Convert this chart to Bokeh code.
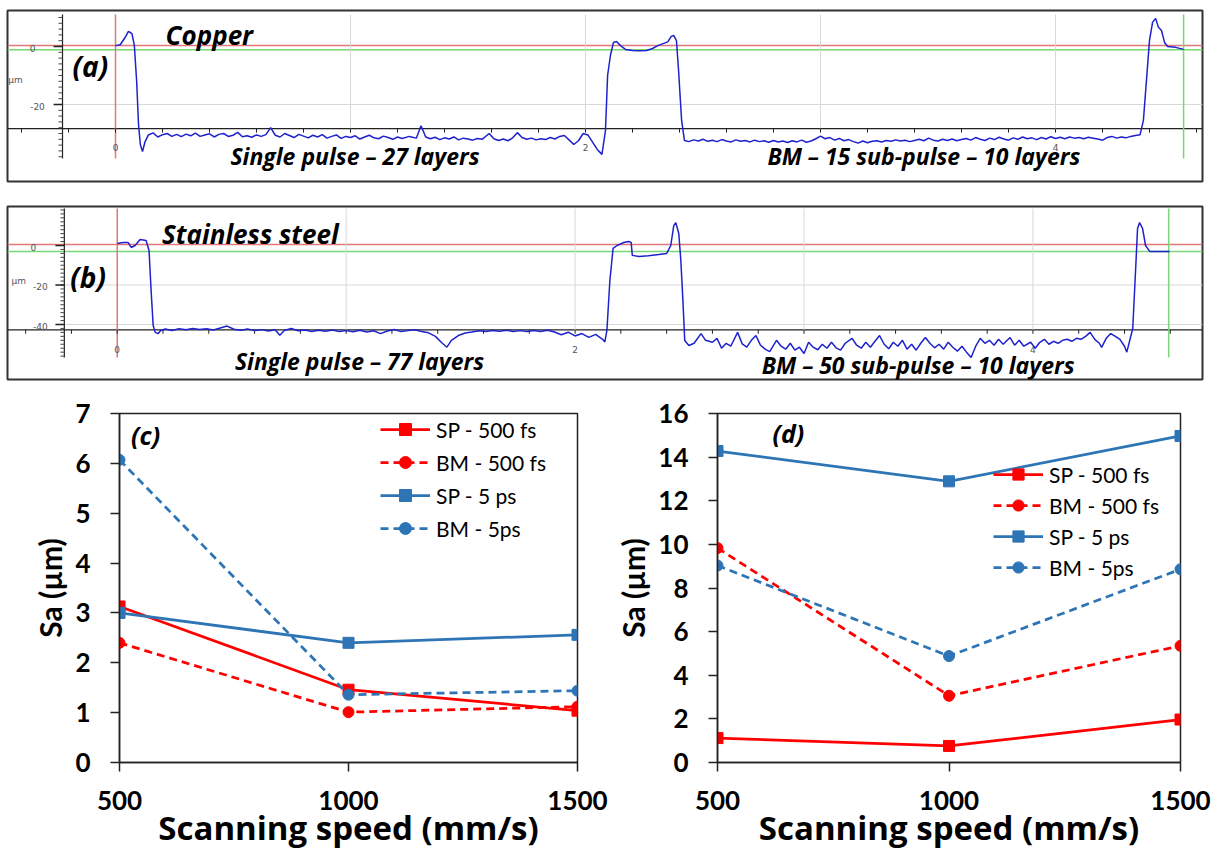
from bokeh.plotting import figure
from bokeh.models import Range1d, Span, Legend, LegendItem, FixedTicker
from bokeh.layouts import column, row
from bokeh.core.properties import value
from bokeh.embed import file_html
from bokeh.resources import INLINE

# ---------------- data ----------------
# (a) copper profile: position (mm), height (um)
cu_x = [0.00, 0.02, 0.04, 0.055, 0.07, 0.08, 0.09, 0.098, 0.106, 0.115, 0.125, 0.14,
        0.16, 0.18, 0.20, 0.22, 0.24, 0.26, 0.28, 0.30, 0.32, 0.34, 0.36, 0.38, 0.40,
        0.42, 0.44, 0.46, 0.48, 0.50, 0.52, 0.54, 0.56, 0.58, 0.60, 0.62, 0.64, 0.66,
        0.68, 0.70, 0.72, 0.74, 0.76, 0.78, 0.80, 0.82, 0.84, 0.86, 0.88, 0.90, 0.92,
        0.94, 0.96, 0.98, 1.00, 1.02, 1.04, 1.06, 1.08, 1.10, 1.12, 1.14, 1.16, 1.18,
        1.20, 1.22, 1.25, 1.28, 1.30, 1.32, 1.34, 1.36, 1.38, 1.40, 1.42, 1.44, 1.46,
        1.48, 1.50, 1.52, 1.54, 1.56, 1.59, 1.61, 1.63, 1.65, 1.67, 1.69, 1.71, 1.73,
        1.75, 1.77, 1.79, 1.81, 1.83, 1.85, 1.87, 1.89, 1.91, 1.93, 1.95, 1.97, 1.99,
        2.01, 2.03, 2.05, 2.07, 2.085, 2.094, 2.106, 2.119, 2.132, 2.149, 2.17, 2.20,
        2.23, 2.26, 2.285, 2.31, 2.33, 2.35, 2.365, 2.375, 2.387, 2.396, 2.409, 2.421,
        2.44, 2.46, 2.48, 2.50, 2.52, 2.54, 2.56, 2.58, 2.60, 2.62, 2.64, 2.66, 2.68,
        2.70, 2.72, 2.74, 2.76, 2.78, 2.80, 2.82, 2.84, 2.86, 2.88, 2.90, 2.92, 2.94,
        2.96, 2.98, 3.00, 3.02, 3.04, 3.06, 3.08, 3.10, 3.12, 3.14, 3.16, 3.18, 3.20,
        3.22, 3.24, 3.26, 3.28, 3.30, 3.32, 3.34, 3.36, 3.38, 3.40, 3.42, 3.44, 3.46,
        3.48, 3.50, 3.52, 3.54, 3.56, 3.58, 3.60, 3.62, 3.64, 3.66, 3.68, 3.70, 3.72,
        3.74, 3.76, 3.78, 3.80, 3.82, 3.84, 3.86, 3.88, 3.90, 3.92, 3.94, 3.96, 3.98,
        4.00, 4.02, 4.04, 4.06, 4.08, 4.10, 4.12, 4.14, 4.16, 4.18, 4.20, 4.22, 4.24,
        4.26, 4.28, 4.30, 4.32, 4.34, 4.36, 4.374, 4.387, 4.40, 4.413, 4.426, 4.438,
        4.451, 4.464, 4.477, 4.511, 4.545]
cu_z = [0.3, 0.6, 3.0, 5.2, 4.4, 0.5, -12.0, -27.0, -34.0, -36.2, -33.0, -30.5,
        -29.8, -31.2, -30.4, -30.0, -31.0, -30.3, -31.1, -30.2, -30.8, -29.9, -31.0, -30.5, -30.1,
        -31.2, -30.3, -30.0, -31.0, -30.6, -29.6, -31.1, -30.8, -31.3, -30.5, -31.0, -30.4, -28.0,
        -30.6, -31.2, -30.0, -30.7, -31.4, -30.3, -30.9, -31.5, -30.6, -31.2, -30.4, -31.6, -31.0,
        -30.5, -31.7, -31.0, -31.4, -30.8, -31.9, -31.2, -30.6, -31.5, -31.8, -30.9, -31.4, -32.0,
        -31.2, -31.7, -31.0, -31.6, -27.3, -31.2, -31.8, -31.3, -32.1, -31.5, -31.9, -31.2, -32.2,
        -31.6, -31.9, -32.3, -31.7, -32.0, -30.0, -31.8, -32.4, -31.9, -32.5, -31.5, -29.7, -31.4,
        -32.0, -31.6, -32.2, -31.8, -32.1, -31.4, -31.9, -31.0, -30.7, -32.2, -33.8, -32.5, -30.0,
        -30.5, -33.0, -35.5, -37.2, -29.0, -10.0, -3.1, 1.4, 1.7, 0.3, -1.0, -1.4,
        -1.5, -1.4, -0.7, 0.4, 1.0, 1.6, 3.5, 3.8, 2.0, -8.3, -25.5, -32.4,
        -32.8, -32.2, -32.6, -32.0, -32.7, -32.3, -32.8, -32.1, -32.6, -32.9, -32.2, -32.7, -32.4,
        -32.9, -32.3, -32.8, -32.5, -33.0, -32.4, -32.9, -32.6, -33.1, -32.5, -32.9, -32.3, -33.0,
        -32.6, -31.8, -30.9, -31.8, -31.4, -32.3, -31.7, -32.5, -32.1, -32.8, -33.3, -32.6, -33.2,
        -32.7, -32.5, -32.9, -32.4, -32.7, -32.2, -32.6, -32.3, -32.8, -32.4, -32.0, -32.5, -31.6,
        -32.3, -32.6, -32.0, -32.4, -31.9, -32.5, -32.1, -31.7, -32.3, -31.4, -32.0, -32.4, -31.6,
        -32.1, -31.3, -31.9, -32.3, -31.5, -32.0, -31.2, -31.8, -31.5, -32.1, -31.4, -31.9, -31.1,
        -31.7, -31.3, -31.8, -31.2, -31.6, -31.4, -31.8, -31.3, -31.6, -31.9, -32.3, -31.4, -31.0,
        -31.6, -31.2, -31.5, -31.0, -30.7, -30.4, -25.5, -11.7, 2.1, 8.3, 9.7, 6.6,
        5.5, 1.4, 0.0, -0.3, -1.0]

# (b) stainless steel profile: position (mm), height (um)
ss_x = [0.00, 0.026, 0.048, 0.061, 0.078, 0.10, 0.126, 0.139, 0.148, 0.157, 0.166, 0.179, 0.19,
        0.21, 0.24, 0.27, 0.30, 0.33, 0.36, 0.39, 0.42, 0.45, 0.48, 0.51, 0.54, 0.57, 0.60,
        0.63, 0.66, 0.69, 0.71, 0.73, 0.76, 0.79, 0.82, 0.85, 0.88, 0.91, 0.94, 0.97, 1.00,
        1.03, 1.06, 1.09, 1.12, 1.15, 1.18, 1.21, 1.24, 1.27, 1.30, 1.33, 1.36, 1.39, 1.42,
        1.44, 1.46, 1.49, 1.52, 1.55, 1.58, 1.61, 1.64, 1.67, 1.70, 1.73, 1.76, 1.79, 1.82,
        1.85, 1.88, 1.91, 1.94, 1.97, 2.00, 2.03, 2.06, 2.09, 2.12, 2.13,
        2.139, 2.152, 2.166, 2.183, 2.213, 2.235, 2.245, 2.250, 2.279, 2.32, 2.366, 2.40, 2.418,
        2.431, 2.44, 2.453, 2.462, 2.471, 2.479, 2.497,
        2.52, 2.55, 2.57, 2.60, 2.62, 2.64, 2.66, 2.68, 2.71, 2.73, 2.75, 2.77, 2.79, 2.81,
        2.83, 2.85, 2.88, 2.90, 2.92, 2.94, 2.96, 2.98, 3.00, 3.02, 3.04, 3.06, 3.08, 3.10,
        3.12, 3.14, 3.16, 3.18, 3.21, 3.23, 3.25, 3.27, 3.29, 3.31, 3.33, 3.35, 3.37, 3.39,
        3.41, 3.43, 3.45, 3.47, 3.49, 3.51, 3.53, 3.55, 3.57, 3.59, 3.61, 3.63, 3.65, 3.67,
        3.69, 3.71, 3.73, 3.75, 3.77, 3.79, 3.81, 3.83, 3.85, 3.87, 3.90, 3.92, 3.94, 3.96,
        3.99, 4.01, 4.03, 4.05, 4.07, 4.09, 4.11, 4.13, 4.15, 4.17, 4.19, 4.21, 4.23, 4.25,
        4.27, 4.29, 4.30, 4.32, 4.34, 4.36, 4.38, 4.40, 4.41, 4.436, 4.45, 4.457, 4.466,
        4.479, 4.492, 4.51, 4.55, 4.597]
ss_z = [1.0, 1.5, 1.5, -1.0, 0.0, 3.0, 2.5, -2.5, -22.8, -40.5, -44.0, -44.6, -43.0,
        -42.3, -43.0, -42.1, -42.7, -42.0, -42.5, -42.2, -42.8, -41.8, -40.8, -42.4, -42.9, -42.3, -43.1,
        -42.6, -43.3, -42.7, -45.4, -43.0, -42.0, -43.2, -42.8, -43.5, -42.9, -43.4, -42.8, -43.6, -43.1,
        -43.7, -42.9, -43.8, -43.2, -44.6, -43.3, -42.5, -43.6, -43.1, -42.7, -43.5, -44.2, -46.0, -49.5,
        -51.5, -48.0, -45.6, -44.3, -43.8, -43.2, -43.6, -43.0, -43.4, -42.9, -43.5, -43.1, -43.6, -43.0,
        -43.5, -42.9, -43.8, -45.2, -43.9, -45.8, -44.6, -46.5, -45.0, -47.5, -48.8,
        -43.0, -17.7, -1.5, 0.0, 1.5, 2.0, 1.6, -5.0, -5.6, -5.2, -4.6, -4.0, 0.0,
        10.1, 11.6, 6.1, -7.6, -27.8, -48.1, -50.6,
        -49.5, -44.6, -48.0, -49.0, -47.0, -52.0, -49.5, -51.0, -44.0, -49.8, -51.5, -48.0, -45.6, -50.5,
        -52.5, -53.7, -48.0, -51.0, -52.5, -49.5, -53.0, -51.5, -54.7, -49.0, -51.5, -52.8, -50.0, -52.0,
        -49.0, -51.8, -53.0, -49.5, -47.0, -50.5, -52.0, -49.0, -51.5, -48.5, -45.6, -50.0, -52.3, -49.0,
        -51.0, -48.0, -52.5, -50.0, -53.0, -49.5, -46.6, -49.5, -51.8, -50.0, -52.5, -49.0, -51.5, -53.5,
        -51.0, -54.0, -56.7, -51.0, -47.0, -49.5, -48.0, -50.5, -47.5, -50.0, -46.6, -50.5, -48.0, -51.0,
        -49.0, -52.0, -49.0, -47.5, -50.0, -48.5, -49.5, -48.0, -47.5, -48.5, -47.0, -47.5, -46.0, -44.0,
        -47.5, -49.5, -51.6, -47.0, -44.6, -46.0, -47.5, -51.0, -54.0, -42.0, -8.6, 8.6, 11.6,
        8.6, 0.0, -3.0, -3.0, -3.0]

# profile axis ticks / labels
prof_major_x = [0, 2, 4]
prof_major_x_labels = ["0", "2", "4"]
prof_grid_x = [1, 2, 3, 4]
cu_major_z = [0, -20]
cu_major_z_labels = ["0", "-20"]
ss_major_z = [0, -20, -40]
ss_major_z_labels = ["0", "-20", "-40"]

# (c) / (d) roughness Sa (um) vs scanning speed (mm/s)
speed = [500, 1000, 1500]
c_sp_500fs = [3.13, 1.46, 1.04]
c_bm_500fs = [2.40, 1.01, 1.12]
c_sp_5ps = [3.00, 2.40, 2.56]
c_bm_5ps = [6.07, 1.36, 1.44]
d_sp_500fs = [1.12, 0.76, 1.97]
d_bm_500fs = [9.83, 3.06, 5.35]
d_sp_5ps = [14.28, 12.89, 14.97]
d_bm_5ps = [9.03, 4.88, 8.86]
series_names = ["SP - 500 fs", "BM - 500 fs", "SP - 5 ps", "BM - 5ps"]

# ---------------- styles ----------------
RED = "#FF0000"
BLUE = "#2E75B6"
PROF_BLUE = "#1E22CC"
GRID = "#D8D8D8"
REDLINE = "#E07878"
GREENLINE = "#78D878"
FONT = "Lato"
TFONT = "Open Sans"


def add_text(p, x, y, t, size, align="left", baseline="alphabetic"):
    p.text(x=[x], y=[y], text=[t], text_font=value(TFONT), text_font_style="bold italic",
           text_font_size=size, text_color="black", text_align=align, text_baseline=baseline)


def profile_panel(x, z, xr, yr, height, mb, ax_x, ax_top, ax_bot, base_z, red_z,
                  green_z, green_x, grid_z, major_z, major_labels, lab_x, lab_dz,
                  um_xy, xlab_z, maj_len, min_len, base_tick_len, texts):
    p = figure(width=1224, height=height, x_range=Range1d(*xr), y_range=Range1d(*yr),
               x_axis_type=None, y_axis_type=None, output_backend="svg",
               toolbar_location=None, min_border_left=mb[0], min_border_right=mb[1],
               min_border_top=mb[2], min_border_bottom=mb[3])
    p.outline_line_color = "#333333"
    p.outline_line_width = 2
    # grid
    p.segment(x0=prof_grid_x, y0=[ax_top] * len(prof_grid_x), x1=prof_grid_x,
              y1=[base_z] * len(prof_grid_x), line_color=GRID, line_width=1)
    p.segment(x0=[ax_x] * len(grid_z), y0=grid_z, x1=[xr[1]] * len(grid_z), y1=grid_z,
              line_color=GRID, line_width=1)
    # reference lines
    p.add_layout(Span(location=red_z, dimension="width", line_color=REDLINE, line_width=1.5, level="underlay"))
    p.add_layout(Span(location=green_z, dimension="width", line_color=GREENLINE, line_width=1.5, level="underlay"))
    p.segment(x0=[0], y0=[ax_top], x1=[0], y1=[ax_bot], line_color=REDLINE, line_width=1.5)
    p.segment(x0=[green_x], y0=[ax_top], x1=[green_x], y1=[ax_bot], line_color=GREENLINE, line_width=1.5)
    # baseline axis with ticks
    p.add_layout(Span(location=base_z, dimension="width", line_color="#222222", line_width=1.2, level="underlay"))
    bt = [round(-0.4 + 0.2 * i, 1) for i in range(26)]
    p.segment(x0=bt, y0=[base_z] * len(bt), x1=bt, y1=[base_z - base_tick_len] * len(bt),
              line_color="#222222", line_width=1)
    # left axis with ticks
    p.segment(x0=[ax_x], y0=[ax_top], x1=[ax_x], y1=[ax_bot], line_color="#222222", line_width=1.2)
    minor = list(range(int(ax_top) // 2 * 2, int(ax_bot) - 1, -2))
    p.segment(x0=[ax_x - min_len] * len(minor), y0=minor, x1=[ax_x] * len(minor), y1=minor,
              line_color="#444444", line_width=1)
    p.segment(x0=[ax_x - maj_len] * len(major_z), y0=major_z, x1=[ax_x] * len(major_z), y1=major_z,
              line_color="#222222", line_width=1.5)
    p.text(x=lab_x, y=[v + lab_dz for v in major_z], text=major_labels, text_font=value("DejaVu Sans"),
           text_font_size="9px", text_color="#555555", text_align="center", text_baseline="middle")
    p.text(x=[um_xy[0]], y=[um_xy[1]], text=["µm"], text_font=value("DejaVu Sans"),
           text_font_size="9px", text_color="#555555", text_align="center", text_baseline="middle")
    p.text(x=prof_major_x, y=[xlab_z] * 3, text=prof_major_x_labels, text_font=value("DejaVu Sans"),
           text_font_size="9px", text_color="#555555", text_align="center", text_baseline="middle")
    # profile
    p.line(x, z, line_color=PROF_BLUE, line_width=1.5)
    for (tx, ty, t, fs) in texts:
        add_text(p, tx, ty, t, fs)
    return p


pa = profile_panel(cu_x, cu_z, (-0.4596, 4.6255), (-46.55, 12.41), 190, (7, 22, 10, 9),
                   -0.2255, 11.0, -38.6, -28.3, 0.35, -1.1, 4.545, [-20], cu_major_z,
                   cu_major_z_labels, [-0.353, -0.332], -0.7, (-0.426, -11.4), -34.8,
                   0.038, 0.017, 1.4,
                   [(0.213, 4.1, "Copper", "26px"), (-0.183, -6.6, "(a)", "28px"),
                    (0.489, -37.9, "Single pulse – 27 layers", "23px"),
                    (2.774, -37.6, "BM – 15 sub-pulse – 10 layers", "23px")])

pb = profile_panel(ss_x, ss_z, (-0.4793, 4.7407), (-67.85, 19.75), 195, (7, 19, 16, 6),
                   -0.231, 18.7, -56.7, -42.7, 0.5, -3.0, 4.593, [-20, -40], ss_major_z,
                   ss_major_z_labels, [-0.366, -0.336, -0.336], -1.0, (-0.43, -18.2), -52.7,
                   0.039, 0.017, 2.0,
                   [(0.196, 5.6, "Stainless steel", "26px"), (-0.205, -16.2, "(b)", "28px"),
                    (0.514, -58.7, "Single pulse – 77 layers", "23px"),
                    (2.815, -60.3, "BM – 50 sub-pulse – 10 layers", "23px")])


def sa_panel(sp500, bm500, sp5, bm5, ymax, ystep, mb, leg_loc, glyph_h, tag, tag_xy):
    p = figure(width=612, height=467, x_range=Range1d(500, 1500), y_range=Range1d(0, ymax),
               output_backend="svg", toolbar_location=None,
               min_border_left=mb[0], min_border_right=mb[1], min_border_top=mb[2], min_border_bottom=mb[3])
    p.xgrid.visible = False
    p.ygrid.visible = False
    p.outline_line_color = "#222222"
    p.outline_line_width = 1.5
    p.xaxis.ticker = FixedTicker(ticks=speed)
    p.yaxis.ticker = FixedTicker(ticks=list(range(0, ymax + 1, ystep)))
    for ax in (p.xaxis[0], p.yaxis[0]):
        ax.axis_line_color = "#222222"
        ax.axis_line_width = 1.5
        ax.major_tick_line_color = "#222222"
        ax.major_tick_line_width = 1.5
        ax.major_tick_in = 0
        ax.major_tick_out = 9
        ax.minor_tick_line_color = None
        ax.major_label_text_font = FONT
        ax.major_label_text_font_style = "bold"
        ax.major_label_text_font_size = "26px"
        ax.major_label_text_color = "black"
        ax.axis_label_text_font_style = "bold"
        ax.axis_label_text_color = "black"
    p.yaxis.axis_label = "Sa (µm)"
    p.yaxis.axis_label_text_font = FONT
    p.yaxis.axis_label_text_font_size = "30px"
    p.xaxis.axis_label = "Scanning speed (mm/s)"
    p.xaxis.axis_label_text_font = TFONT
    p.xaxis.axis_label_text_font_size = "33px"
    p.xaxis.major_label_standoff = 19
    p.xaxis.axis_label_standoff = -8
    p.yaxis.major_label_standoff = 20
    p.yaxis.axis_label_standoff = 4

    items = []
    specs = [(sp500, RED, "solid", "square"), (bm500, RED, "8 5", "circle"),
             (sp5, BLUE, "solid", "square"), (bm5, BLUE, "8 5", "circle")]
    for name, (vals, col, dash, mk) in zip(series_names, specs):
        lr = p.line(speed, vals, line_color=col, line_width=2.75, line_dash=dash)
        sr = p.scatter(speed, vals, marker=mk, size=11, fill_color=col, line_color=col)
        items.append(LegendItem(label=name, renderers=[lr, sr]))
    leg = Legend(items=items, location=leg_loc, glyph_width=50, glyph_height=glyph_h,
                 label_height=glyph_h, spacing=3, padding=0, margin=0, label_standoff=6,
                 label_text_font=FONT, label_text_font_size="21px", label_text_color="black",
                 border_line_color=None, background_fill_alpha=0)
    p.add_layout(leg)
    add_text(p, tag_xy[0], tag_xy[1], tag, "25px", align="center", baseline="middle")
    return p


pc = sa_panel(c_sp_500fs, c_bm_500fs, c_sp_5ps, c_bm_5ps, 7, 1, (119, 35, 22, 89),
              (261, 219), 30, "(c)", (557, 6.56))
pd_ = sa_panel(d_sp_500fs, d_bm_500fs, d_sp_5ps, d_bm_5ps, 16, 2, (98, 44, 28, 88),
               (276, 181), 28, "(d)", (653, 15.1))

layout = column(pa, pb, row(pc, pd_, spacing=0), spacing=0)
open("out.html", "w").write(file_html(layout, INLINE))
